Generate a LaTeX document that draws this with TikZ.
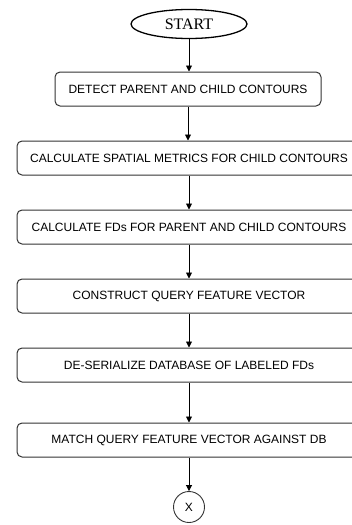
\documentclass[tikz,border=0pt]{standalone}
\usepackage{fontspec}
\setmainfont{Liberation Serif}
\setsansfont{Liberation Sans}
\usetikzlibrary{arrows.meta,shapes.geometric}
\begin{document}
\begin{tikzpicture}[x=1pt,y=-1pt,
  stepbox/.style={draw=black!80,line width=1pt,rounded corners=5pt,minimum height=34pt,inner sep=0pt,font=\sffamily\fontsize{12}{12}\selectfont,text=black},
  flow/.style={draw=black,line width=0.9pt,-{Triangle[length=6pt,width=6pt]}}]
\clip (0,0) rectangle (352,525);
\useasboundingbox (0,0) rectangle (352,525);
\node[draw=black,line width=1.3pt,ellipse,minimum width=116pt,minimum height=29pt,inner sep=0pt,font=\fontsize{16}{16}\selectfont] (start) at (189,24) {START};
\node[stepbox,minimum width=266pt] (b1) at (188,89) {DETECT PARENT AND CHILD CONTOURS};
\node[stepbox,minimum width=344pt] (b2) at (189,158) {CALCULATE SPATIAL METRICS FOR CHILD CONTOURS};
\node[stepbox,minimum width=344pt] (b3) at (189,227) {CALCULATE FDs FOR PARENT AND CHILD CONTOURS};
\node[stepbox,minimum width=344pt] (b4) at (189,296) {CONSTRUCT QUERY FEATURE VECTOR};
\node[stepbox,minimum width=344pt] (b5) at (189,365) {DE-SERIALIZE DATABASE OF LABELED FDs};
\node[stepbox,minimum width=344pt] (b6) at (189,440) {MATCH QUERY FEATURE VECTOR AGAINST DB};
\node[draw=black!80,line width=0.9pt,circle,minimum size=31pt,inner sep=0pt,font=\sffamily\fontsize{12}{12}\selectfont] (x) at (189,507) {X};
\draw[flow] (start.south) -- (start.south |- b1.north);
\draw[flow] (b1.south) -- (b1.south |- b2.north);
\draw[flow] (b2.south) -- (b3.north);
\draw[flow] (b3.south) -- (b4.north);
\draw[flow] (b4.south) -- (b5.north);
\draw[flow] (b5.south) -- (b6.north);
\draw[flow] (b6.south) -- (x.north);
\end{tikzpicture}
\end{document}
